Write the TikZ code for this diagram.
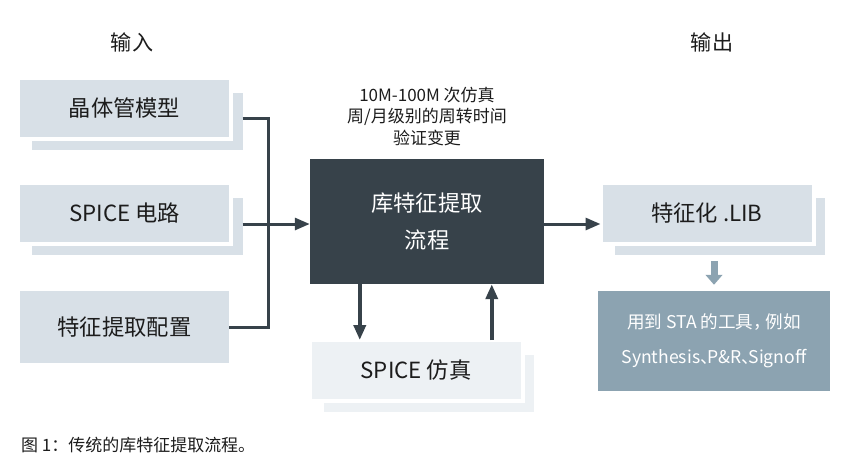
\documentclass[tikz,border=0pt]{standalone}
\usepackage{fontspec}
\setmainfont{Noto Sans CJK SC}
\usetikzlibrary{arrows.meta}
\definecolor{cardbg}{RGB}{216,224,231}
\definecolor{simbg}{RGB}{237,241,244}
\definecolor{flowbg}{RGB}{55,66,74}
\definecolor{stabg}{RGB}{140,163,177}
\definecolor{inktext}{RGB}{28,28,28}

\begin{document}
\begin{tikzpicture}[x=0.03cm,y=-0.03cm,
  card/.style={rectangle,fill=cardbg,draw=white,line width=0.12cm,outer sep=0pt,
               minimum width=6.39cm,minimum height=1.83cm,inner sep=0pt,
               text=inktext,font=\fontsize{19}{23}\selectfont},
  cardsh/.style={rectangle,fill=cardbg,minimum width=6.3cm,minimum height=1.71cm,inner sep=0pt},
  link/.style={draw=flowbg,line width=0.09cm},
  tip/.style={-{Triangle[length=0.45cm,width=0.36cm]}},
  label/.style={text=inktext,align=center}
]
\useasboundingbox (0,0) rectangle (849,473);

\node[label,font=\fontsize{18}{22}\selectfont] (inhd) at (132,42) {输入};
\node[label,font=\fontsize{18}{22}\selectfont] (outhd) at (712,42) {输出};

\node[cardsh] (xtr-sh) at (137.5,121.5) {};
\node[card] (xtr) at (124.5,108.5) {晶体管模型};
\node[cardsh] (ckt-sh) at (137.5,226.5) {};
\node[card] (ckt) at (124.5,213.5) {SPICE 电路};
\node[card,draw=none,minimum width=6.27cm,minimum height=2.16cm] (cfg) at (124.5,327) {特征提取配置};

\node[label,font=\fontsize{14.5}{18.3}\selectfont] (note) at (427,116.5) {10M-100M 次仿真\\周/月级别的周转时间\\验证变更};
\node[rectangle,fill=flowbg,minimum width=7.02cm,minimum height=3.75cm,text=white,align=center,
      font=\fontsize{19}{31}\selectfont] (flow) at (427,221.5) {库特征提取\\流程};

\node[cardsh,fill=simbg] (sim-sh) at (429,383.5) {};
\node[card,fill=simbg] (sim) at (416,370.5) {SPICE 仿真};

\node[cardsh] (lib-sh) at (720,226.5) {};
\node[card] (lib) at (707,213.5) {特征化 .LIB};
\node[rectangle,fill=stabg,minimum width=6.96cm,minimum height=3cm,text=white,align=center,
      font=\fontsize{15}{30}\selectfont] (sta) at (714,341)
  {用到 STA 的工具，\kern-0.3em 例如\\Synthesis、\kern-0.6em P\&R、\kern-0.6em Signoff};

\coordinate (jn) at (268,224);
\draw[link] (xtr-sh.east |- 0,118) -| (jn);
\draw[link] (cfg.east) -| (jn);
\draw[link] (ckt-sh.east |- jn) -- (jn);
\draw[link,tip] (jn) -- (jn -| flow.west);
\draw[link,tip] (flow.east |- jn) -- (jn -| lib.west);

\coordinate (dn) at ([xshift=1.5cm]flow.south west);
\coordinate (up) at ([xshift=5.46cm]flow.south west);
\draw[link,line width=0.11cm,tip] (dn) -- (dn |- sim.north);
\draw[link,line width=0.11cm,tip] (up |- sim.north) -- (up);

\draw[draw=stabg,line width=0.21cm,-{Triangle[length=0.3cm,width=0.5cm]}]
  ([yshift=0.9cm]sta.north) -- ([yshift=0.18cm]sta.north);

\node[anchor=west,text=inktext,font=\fontsize{14.5}{17}\selectfont] (cap) at (17,445) {图 1：传统的库特征提取流程。};
\end{tikzpicture}
\end{document}
